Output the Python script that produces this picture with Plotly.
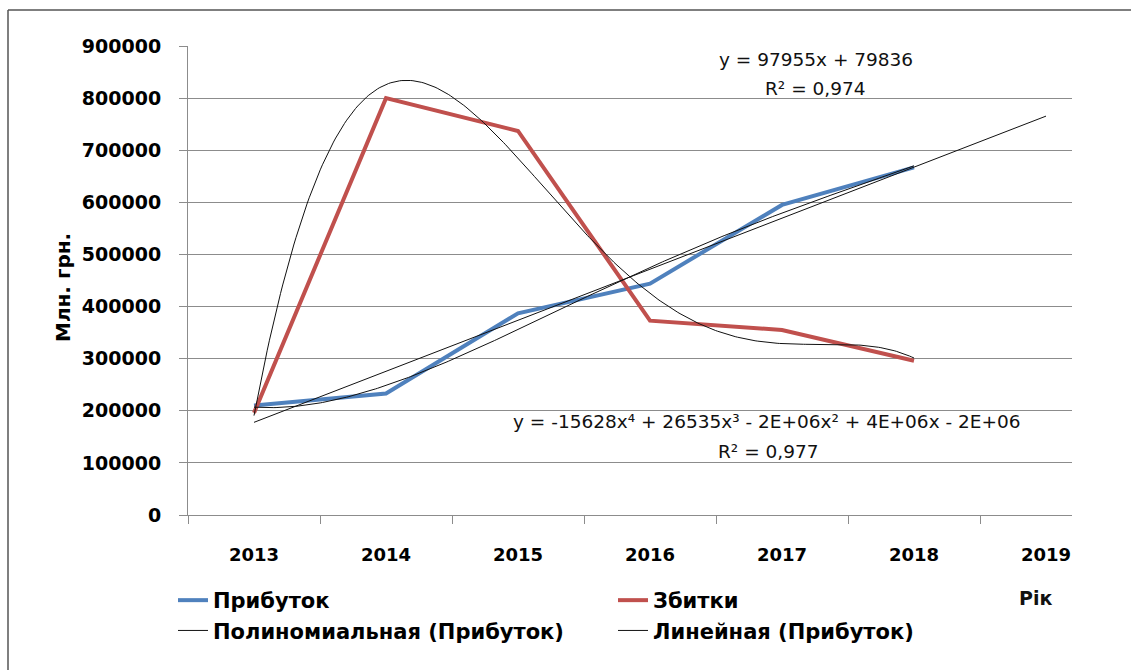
import numpy as np
import plotly.graph_objects as go

# ---- data ----
years = ["2013", "2014", "2015", "2016", "2017", "2018", "2019"]
profit = [210000, 233000, 387000, 444000, 595000, 667000]   # Прибуток
losses = [196000, 800000, 737000, 373000, 355000, 296000]   # Збитки
y_ticks = list(range(0, 900001, 100000))

lin_eq = "y = 97955x + 79836"
lin_r2 = "R² = 0,974"
poly_eq = "y = -15628x⁴ + 26535x³ - 2E+06x² + 4E+06x - 2E+06"
poly_r2 = "R² = 0,977"

# ---- geometry ----
W, H = 1131, 670
L, R, T, B = 188, 59, 46, 155
PW, PH = W - L - R, H - T - B
UNIT = 132.0  # px per category

def px(xp):
    return (xp - L) / PW

def py(yp):
    return (H - B - yp) / PH

FONT = "DejaVu Sans"
BLUE = "#4F81BD"
RED = "#C0504D"
GRID = "#8C8C8C"

idx = np.arange(1, len(profit) + 1)
lin_c = np.polyfit(idx, profit, 1)
lin_x = np.array([1, len(profit) + 1])          # forecast forward one period
poly_p = np.polyfit(idx, profit, 4)
poly_l = np.polyfit(idx, losses, 4)
xs = np.linspace(1, len(profit), 300)

fig = go.Figure()
fig.add_trace(go.Scatter(x=idx, y=profit, mode="lines", name="Прибуток",
                         line=dict(color=BLUE, width=4)))
fig.add_trace(go.Scatter(x=idx, y=losses, mode="lines", name="Збитки",
                         line=dict(color=RED, width=4)))
fig.add_trace(go.Scatter(x=xs, y=np.polyval(poly_p, xs), mode="lines",
                         name="Полиномиальная (Прибуток)",
                         line=dict(color="#111111", width=1)))
fig.add_trace(go.Scatter(x=lin_x, y=np.polyval(lin_c, lin_x), mode="lines",
                         name="Линейная (Прибуток)",
                         line=dict(color="#111111", width=1)))
fig.add_trace(go.Scatter(x=xs, y=np.polyval(poly_l, xs), mode="lines",
                         name="Полиномиальная (Збитки)", showlegend=False,
                         line=dict(color="#111111", width=1)))

xr = [0.5, 0.5 + PW / UNIT]
fig.update_layout(
    width=W, height=H,
    margin=dict(l=L, r=R, t=T, b=B),
    paper_bgcolor="white", plot_bgcolor="white",
    font=dict(family=FONT, color="black"),
    xaxis=dict(range=xr, tickmode="array", tickvals=list(range(1, len(years) + 1)),
               ticktext=years, ticks="", showgrid=False, zeroline=False,
               showline=True, linecolor=GRID, linewidth=1,
               tickfont=dict(size=18, weight="bold", family=FONT),
               ticklabelstandoff=23,
               minor=dict(tickmode="array",
                          tickvals=[i + 0.5 for i in range(len(years))],
                          ticks="outside", ticklen=8, tickcolor=GRID,
                          tickwidth=1, showgrid=False)),
    yaxis=dict(range=[0, 900000], tickmode="array", tickvals=y_ticks,
               ticktext=[str(v) for v in y_ticks],
               ticks="outside", ticklen=8, tickcolor=GRID, tickwidth=1,
               showgrid=True, gridcolor=GRID, gridwidth=1, zeroline=False,
               showline=True, linecolor=GRID, linewidth=1,
               tickfont=dict(size=19, weight="bold", family=FONT),
               ticklabelstandoff=14),
    legend=dict(orientation="h", xref="container", yref="container",
                x=173 / W, y=1 - 580 / H, xanchor="left", yanchor="top",
                entrywidth=395, font=dict(size=21, weight="bold", family=FONT),
                bgcolor="rgba(0,0,0,0)", traceorder="normal"),
    showlegend=True,
)

ann = [
    dict(text=lin_eq, x=px(816), y=py(59), size=18.5, bold=False),
    dict(text=lin_r2, x=px(815), y=py(88), size=18.5, bold=False),
    dict(text=poly_eq, x=px(767), y=py(421), size=18.5, bold=False),
    dict(text=poly_r2, x=px(768), y=py(451), size=18.5, bold=False),
    dict(text="Рік", x=px(1035), y=py(598), size=19, bold=True),
]
for a in ann:
    fig.add_annotation(text=a["text"], x=a["x"], y=a["y"], xref="paper", yref="paper",
                       showarrow=False, xanchor="center", yanchor="middle",
                       font=dict(size=a["size"], family=FONT, color="#111111",
                                 weight="bold" if a["bold"] else "normal"))
fig.add_annotation(text="Млн. грн.", x=px(63), y=py(288), xref="paper", yref="paper",
                   showarrow=False, textangle=-90, xanchor="center", yanchor="middle",
                   font=dict(size=20, family=FONT, color="black", weight="bold"))

# outer chart frame (top and left edges visible)
fig.add_shape(type="line", xref="paper", yref="paper", x0=px(8), x1=px(W + 5),
              y0=py(10), y1=py(10), line=dict(color="#555555", width=1.5))
fig.add_shape(type="line", xref="paper", yref="paper", x0=px(8), x1=px(8),
              y0=py(10), y1=py(H + 5), line=dict(color="#555555", width=1.5))

fig.write_html("out.html", config={"displayModeBar": False},
               post_script="document.body.style.margin='0px';document.body.style.overflow='hidden';")
